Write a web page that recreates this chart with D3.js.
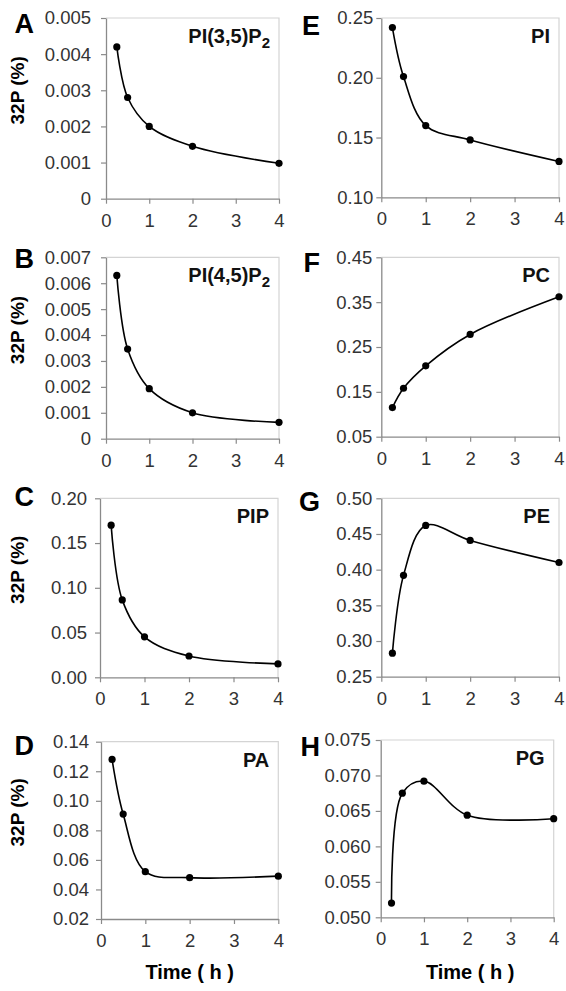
<!DOCTYPE html>
<html>
<head>
<meta charset="utf-8">
<script src="https://cdn.jsdelivr.net/npm/d3@7"></script>
<style>
  body { margin: 0; background: #fff; }
  svg text { font-family: "Liberation Sans", Arial, sans-serif; }
</style>
</head>
<body>
<svg id="fig" width="566" height="991"></svg>
<script>
// time points (h) and 32P values (%)
const times = [0.25, 0.5, 1, 2, 4];
const xTicks = [0, 1, 2, 3, 4];

const pi35p2 = [0.0042, 0.0028, 0.0020, 0.00145, 0.00098];
const pi45p2 = [0.0063, 0.00346, 0.00193, 0.00100, 0.00063];
const pip    = [0.170, 0.0865, 0.0452, 0.0238, 0.0150];
const pa     = [0.128, 0.091, 0.052, 0.048, 0.049];
const pi     = [0.242, 0.201, 0.160, 0.148, 0.130];
const pc     = [0.115, 0.158, 0.208, 0.278, 0.362];
const pe     = [0.283, 0.392, 0.462, 0.441, 0.410];
const pg     = [0.0520, 0.0675, 0.0692, 0.0644, 0.0639];

const ticksA = [0, 0.001, 0.002, 0.003, 0.004, 0.005];
const ticksB = [0, 0.001, 0.002, 0.003, 0.004, 0.005, 0.006, 0.007];
const ticksC = [0, 0.05, 0.10, 0.15, 0.20];
const ticksD = [0.02, 0.04, 0.06, 0.08, 0.10, 0.12, 0.14];
const ticksE = [0.10, 0.15, 0.20, 0.25];
const ticksF = [0.05, 0.15, 0.25, 0.35, 0.45];
const ticksG = [0.25, 0.30, 0.35, 0.40, 0.45, 0.50];
const ticksH = [0.050, 0.055, 0.060, 0.065, 0.070, 0.075];

const f3 = d3.format(".3f");
const f2 = d3.format(".2f");
const fmtSmall = d => d === 0 ? "0" : f3(d);

const panels = [
  {letter: "A", name: "PI(3,5)P", sub: "2", values: pi35p2, ticks: ticksA, fmt: fmtSmall},
  {letter: "B", name: "PI(4,5)P", sub: "2", values: pi45p2, ticks: ticksB, fmt: fmtSmall},
  {letter: "C", name: "PIP", sub: "", values: pip, ticks: ticksC, fmt: f2},
  {letter: "D", name: "PA", sub: "", values: pa, ticks: ticksD, fmt: f2},
  {letter: "E", name: "PI", sub: "", values: pi, ticks: ticksE, fmt: f2},
  {letter: "F", name: "PC", sub: "", values: pc, ticks: ticksF, fmt: f2},
  {letter: "G", name: "PE", sub: "", values: pe, ticks: ticksG, fmt: f2},
  {letter: "H", name: "PG", sub: "", values: pg, ticks: ticksH, fmt: f3}
];

// plot boxes: left, right, top, bottom, letter baseline, y tick padding
const layout = {
  A: {x0: 106, x1: 279, y0: 18, y1: 198.7, ly: 33, pad: 10},
  B: {x0: 106, x1: 279, y0: 257.3, y1: 438.7, ly: 268, pad: 10},
  C: {x0: 100, x1: 278, y0: 498.3, y1: 677.3, ly: 506, pad: 8},
  D: {x0: 101, x1: 278.3, y0: 741.7, y1: 919, ly: 755, pad: 7},
  E: {x0: 381.3, x1: 559, y0: 18, y1: 197.3, ly: 35, pad: 3},
  F: {x0: 381.3, x1: 559, y0: 257.3, y1: 436.7, ly: 272, pad: 4},
  G: {x0: 381.3, x1: 559, y0: 498.3, y1: 676.7, ly: 511, pad: 4},
  H: {x0: 380.7, x1: 553.7, y0: 740, y1: 917.3, ly: 756, pad: 5}
};

const svg = d3.select("#fig");
svg.append("rect").attr("width", 566).attr("height", 991).attr("fill", "#fff");

panels.forEach(p => {
  const L = layout[p.letter];
  const leftCol = L.x0 < 200;

  const x = d3.scaleLinear().domain([0, 4]).range([L.x0, L.x1]);
  const y = d3.scaleLinear()
      .domain([p.ticks[0], p.ticks[p.ticks.length - 1]])
      .range([L.y1, L.y0]);

  const g = svg.append("g");

  // light frame on top and right
  g.append("path")
      .attr("d", `M${L.x0},${L.y0}H${L.x1}V${L.y1}`)
      .attr("fill", "none")
      .attr("stroke", "#d4d4d4")
      .attr("stroke-width", 1.2);

  // axes
  const xAxis = g.append("g")
      .attr("transform", `translate(0,${L.y1})`)
      .call(d3.axisBottom(x).tickValues(xTicks).tickFormat(d3.format("d"))
          .tickSize(5).tickSizeOuter(0).tickPadding(10));
  const yAxis = g.append("g")
      .attr("transform", `translate(${L.x0},0)`)
      .call(d3.axisLeft(y).tickValues(p.ticks).tickFormat(p.fmt)
          .tickSize(5).tickSizeOuter(0).tickPadding(L.pad));

  [xAxis, yAxis].forEach(a => {
    a.select(".domain").attr("stroke", "#8a8a8a").attr("stroke-width", 1.3);
    a.selectAll(".tick line").attr("stroke", "#8a8a8a").attr("stroke-width", 1.2);
    a.selectAll(".tick text")
        .attr("fill", "#333")
        .style("font-size", "18.5px");
  });

  // smoothed line and markers
  const pts = times.map((t, i) => [t, p.values[i]]);
  const line = d3.line()
      .x(d => x(d[0]))
      .y(d => y(d[1]))
      .curve(d3.curveCatmullRom.alpha(0.5));

  g.append("path")
      .datum(pts)
      .attr("d", line)
      .attr("fill", "none")
      .attr("stroke", "#000")
      .attr("stroke-width", 1.6);

  g.selectAll(".dot")
      .data(pts)
      .enter()
      .append("circle")
      .attr("cx", d => x(d[0]))
      .attr("cy", d => y(d[1]))
      .attr("r", 3.6)
      .attr("fill", "#000");

  // panel letter
  svg.append("text")
      .attr("x", leftCol ? 34 : 320)
      .attr("y", L.ly)
      .attr("text-anchor", "end")
      .style("font-size", "27px")
      .style("font-weight", "bold")
      .text(p.letter);

  // lipid name
  const name = svg.append("text")
      .attr("x", L.x1 - 9)
      .attr("y", L.y0 + 25)
      .attr("text-anchor", "end")
      .style("font-size", "20px")
      .style("font-weight", "bold")
      .attr("fill", "#111");
  name.append("tspan").text(p.name);
  if (p.sub) {
    name.append("tspan")
        .attr("dy", 5)
        .style("font-size", "15px")
        .text(p.sub);
  }

  // y title on the left column
  if (leftCol) {
    const cy = (L.y0 + L.y1) / 2 - 18;
    svg.append("text")
        .attr("transform", `translate(24,${cy}) rotate(-90)`)
        .attr("text-anchor", "middle")
        .style("font-size", "19px")
        .style("font-weight", "bold")
        .text("32P (%)");
  }

  // x title under the bottom row
  if (p.letter === "D" || p.letter === "H") {
    svg.append("text")
        .attr("x", (L.x0 + L.x1) / 2 + (leftCol ? 0 : 3))
        .attr("y", 979)
        .attr("text-anchor", "middle")
        .style("font-size", "20px")
        .style("font-weight", "bold")
        .text("Time ( h )");
  }
});
</script>
</body>
</html>
